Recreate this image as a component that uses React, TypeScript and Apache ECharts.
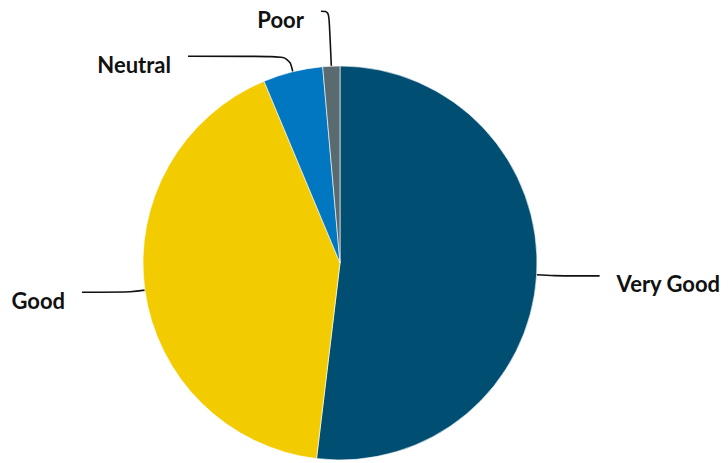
import React, { useEffect, useRef } from "react";
import * as echarts from "echarts";

const categories = ["Very Good", "Good", "Neutral", "Poor"];
const values = [51.9, 41.8, 4.9, 1.4];
const colors = ["#004e72", "#f2cb00", "#0077c0", "#5a6b70"];
const lineLengths = [
  [18, 45],
  [15, 48],
  [16, 101],
  [55, 8],
];

export default function App() {
  const ref = useRef<HTMLDivElement>(null);
  useEffect(() => {
    if (!ref.current) return;
    const chart = echarts.init(ref.current, undefined, { renderer: "svg" });
    chart.setOption({
      animation: false,
      backgroundColor: "#ffffff",
      series: [
        {
          type: "pie",
          center: [340, 263],
          radius: 197,
          startAngle: 90,
          clockwise: true,
          avoidLabelOverlap: false,
          itemStyle: { borderColor: "#ffffff", borderWidth: 0.6 },
          label: {
            show: true,
            position: "outside",
            formatter: "{t|{b}}",
            color: "#111111",
            fontFamily: "Lato",
            fontWeight: 700,
            fontSize: 22,
            distanceToLabelLine: 17,
            rich: {
              t: {
                color: "#111111",
                fontFamily: "Lato",
                fontWeight: 700,
                fontSize: 22,
                padding: [16, 0, 0, 0],
              },
            },
          },
          labelLine: {
            show: true,
            smooth: 0.4,
            lineStyle: { color: "#111111", width: 1.6 },
          },
          data: categories.map((name, i) => ({
            name,
            value: values[i],
            itemStyle: { color: colors[i] },
            labelLine: { length: lineLengths[i][0], length2: lineLengths[i][1] },
          })),
        },
      ],
    });
    return () => chart.dispose();
  }, []);
  return (
    <div
      ref={ref}
      style={{ position: "absolute", left: 0, top: 0, width: 728, height: 463 }}
    />
  );
}
